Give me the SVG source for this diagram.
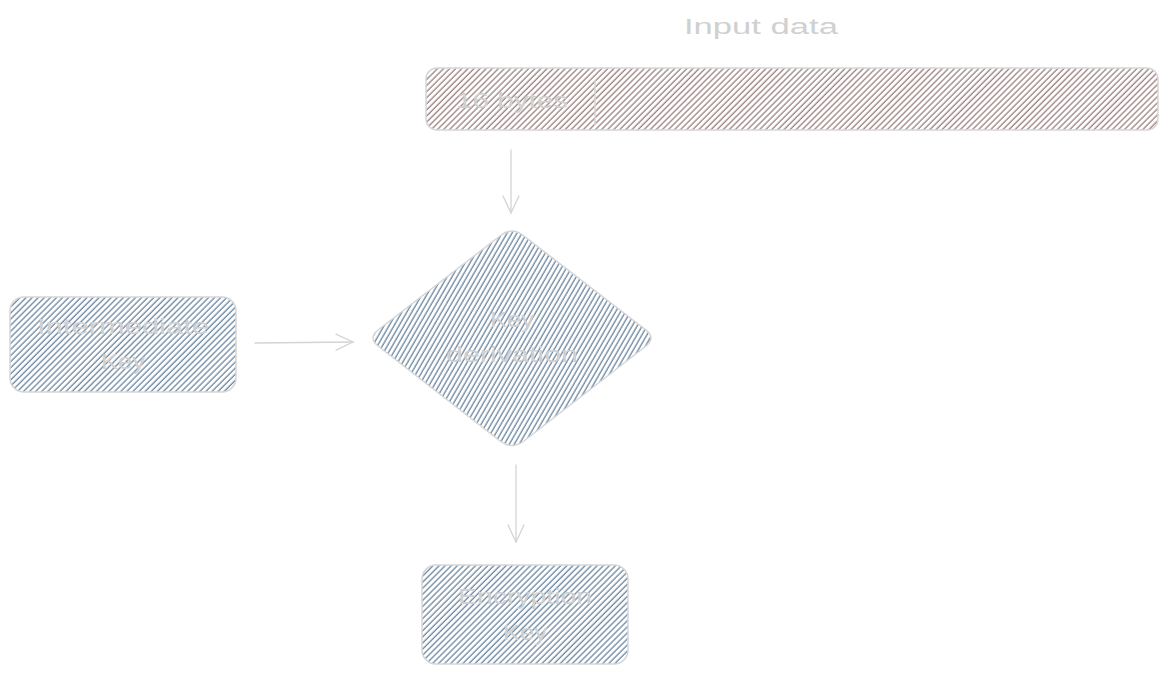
<svg xmlns="http://www.w3.org/2000/svg" width="1167" height="674" viewBox="0 0 1167 674">
<defs>
<pattern id="hBlue" patternUnits="userSpaceOnUse" width="4.3" height="10" patternTransform="rotate(45)">
<line x1="1" y1="0" x2="1" y2="10" stroke="#50708f" stroke-width="1.1"/>
</pattern>
<pattern id="hBlueD" patternUnits="userSpaceOnUse" width="4.3" height="10" patternTransform="rotate(30)">
<line x1="1" y1="0" x2="1" y2="10" stroke="#50708f" stroke-width="1.1"/>
</pattern>
<pattern id="hBrown" patternUnits="userSpaceOnUse" width="4.3" height="10" patternTransform="rotate(45)">
<line x1="1" y1="0" x2="1" y2="10" stroke="#876a6a" stroke-width="1.1"/>
</pattern>
<marker id="ah" viewBox="0 0 20 20" refX="18" refY="10" markerWidth="20" markerHeight="20" markerUnits="userSpaceOnUse" orient="auto">
<path d="M1,2 L18,10 L1,18" fill="none" stroke="#d4d4d4" stroke-width="1.3" stroke-linecap="round"/>
</marker>
</defs>
<style>
.box{stroke:#d6d6d6;stroke-width:1.5}
.blue{fill:url(#hBlue)}
.blueD{fill:url(#hBlueD)}
.brown{fill:url(#hBrown)}
.t{font-family:"Liberation Sans",Arial,sans-serif;font-size:22px;fill:#d0d0d0;text-anchor:middle}
.edge{fill:none;stroke:#d4d4d4;stroke-width:1.3;stroke-linecap:round}
</style>
<rect width="1167" height="674" fill="#ffffff"/>
<g id="title">
<text class="t" x="761" y="34" textLength="154" lengthAdjust="spacingAndGlyphs">Input data</text>
</g>
<g id="input">
<rect class="box brown" x="426" y="68" width="732" height="62" rx="11"/>
<line x1="595" y1="80" x2="595" y2="125" stroke="#d6d6d6" stroke-width="1.5"/>
<text class="t" x="512" y="108" textLength="112" lengthAdjust="spacingAndGlyphs">16 bytes</text>
</g>
<g id="intermediate">
<rect class="box blue" x="10" y="297" width="226" height="95" rx="14"/>
<text class="t" x="123" y="334" textLength="172" lengthAdjust="spacingAndGlyphs">Intermediate</text>
<text class="t" x="123" y="369" textLength="44" lengthAdjust="spacingAndGlyphs">Key</text>
</g>
<g id="derivation">
<path class="box blueD" d="M500,236 Q512,226 524,236 L646,330 Q656,338 646,346 L524,441 Q512,450 500,441 L378,346 Q368,338 378,330 Z"/>
<text class="t" x="512" y="327" textLength="44" lengthAdjust="spacingAndGlyphs">Key</text>
<text class="t" x="512" y="362" textLength="132" lengthAdjust="spacingAndGlyphs">derivation</text>
</g>
<g id="encryption">
<rect class="box blue" x="422" y="565" width="206" height="99" rx="14"/>
<text class="t" x="525" y="604" textLength="134" lengthAdjust="spacingAndGlyphs">Encryption</text>
<text class="t" x="525" y="640" textLength="44" lengthAdjust="spacingAndGlyphs">Key</text>
</g>
<g id="connectors">
<path class="edge" d="M511,150 L511,213" marker-end="url(#ah)"/>
<path class="edge" d="M255,343 L353,342" marker-end="url(#ah)"/>
<path class="edge" d="M516,465 L516,542" marker-end="url(#ah)"/>
</g>
</svg>
